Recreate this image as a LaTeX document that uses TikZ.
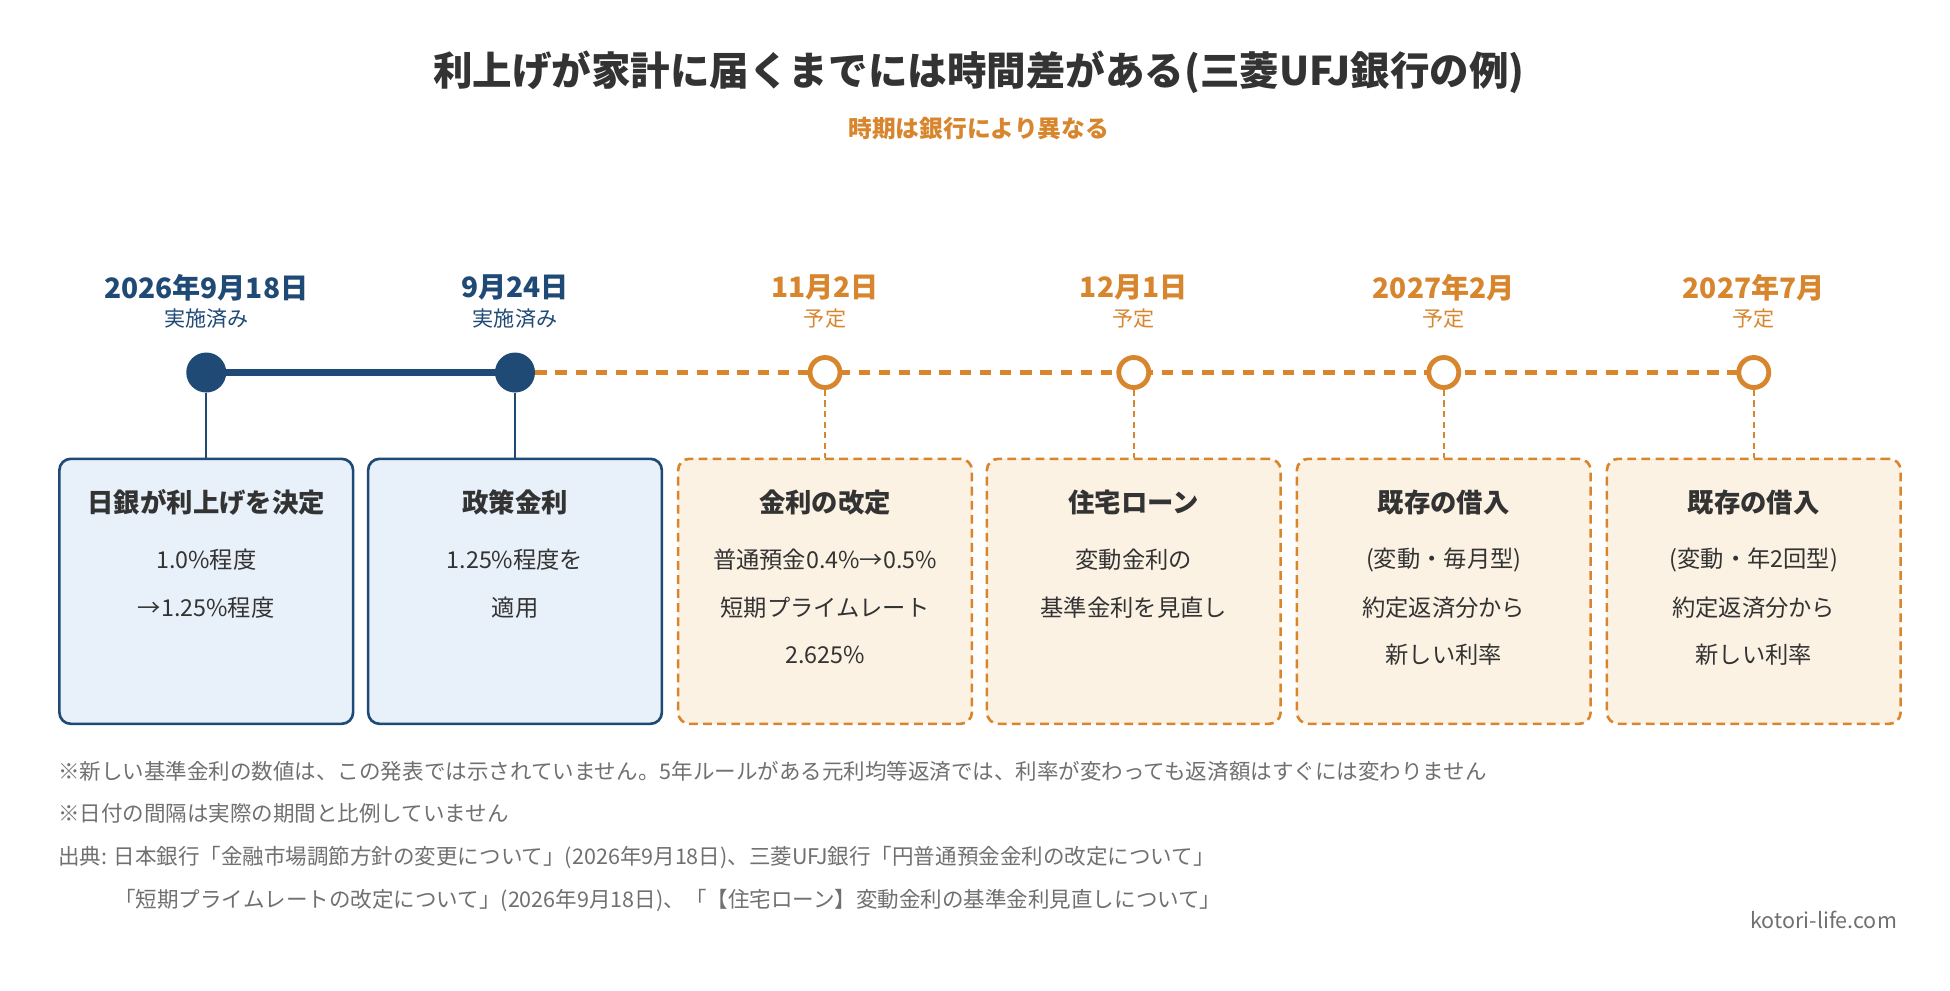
\documentclass[tikz,border=0pt]{standalone}
\usepackage{fontspec}
\setmainfont{Noto Sans CJK JP}
\begin{document}
\definecolor{navy}{HTML}{1F4A75}
\definecolor{org}{HTML}{D8862E}
\definecolor{bfill}{HTML}{E8F0F9}
\definecolor{ofill}{HTML}{FCF2E4}
\definecolor{txt}{HTML}{333333}
\definecolor{gry}{HTML}{707070}
\begin{tikzpicture}[x=0.05cm,y=-0.05cm,
  done/.style={draw=navy,line width=3pt,fill=bfill,rounded corners=13pt,minimum width=235*0.05cm,minimum height=212*0.05cm,anchor=north},
  plan/.style={draw=org,line width=3pt,dash pattern=on 10pt off 6pt,fill=ofill,rounded corners=13pt,minimum width=235*0.05cm,minimum height=212*0.05cm,anchor=north},
  dt/.style={font=\fontsize{32}{34}\selectfont\bfseries},
  sub/.style={font=\fontsize{24}{26}\selectfont},
  bt/.style={font=\fontsize{30}{32}\selectfont\bfseries,text=txt},
  bl/.style={font=\fontsize{26.5}{28}\selectfont,text=txt},
  note/.style={font=\fontsize{24.5}{26}\selectfont,text=gry,anchor=west}]
\useasboundingbox (0,0) rectangle (1560,792);
\fill[white] (0,0) rectangle (1560,792);
\node[font=\fontsize{45}{48}\selectfont\bfseries,text=txt] (title) at (783,58) {利上げが家計に届くまでには時間差がある(三菱UFJ銀行の例)};
\node[font=\fontsize{27}{30}\selectfont\bfseries,text=org] (subt) at (783,103) {時期は銀行により異なる};
% timeline
\foreach \i/\x in {1/165,2/412,3/660,4/907,5/1155,6/1403}{\coordinate (p\i) at (\x,298);}
\draw[navy,line width=8pt] (p1) -- (p2);
\draw[org,line width=5.5pt,dash pattern=on 13pt off 10pt] (p2) -- (p6);
\foreach \i in {1,2}{\node[circle,fill=navy,minimum size=32*0.05cm,inner sep=0] (c\i) at (p\i) {};}
\foreach \i in {3,...,6}{\node[circle,draw=org,line width=5.5pt,fill=white,minimum size=24*0.05cm,inner sep=0] (c\i) at (p\i) {};}
% dates
\node[dt,text=navy] (d1) at (165,230) {2026年9月18日};
\node[sub,text=navy] (s1) at (165,255) {実施済み};
\node[dt,text=navy] (d2) at (412,230) {9月24日};
\node[sub,text=navy] (s2) at (412,255) {実施済み};
\node[dt,text=org] (d3) at (660,230) {11月2日};
\node[sub,text=org] (s3) at (660,255) {予定};
\node[dt,text=org] (d4) at (907,230) {12月1日};
\node[sub,text=org] (s4) at (907,255) {予定};
\node[dt,text=org] (d5) at (1155,230) {2027年2月};
\node[sub,text=org] (s5) at (1155,255) {予定};
\node[dt,text=org] (d6) at (1403,230) {2027年7月};
\node[sub,text=org] (s6) at (1403,255) {予定};
% boxes
\node[done] (b1) at (165,366) {};
\node[done] (b2) at (412,366) {};
\node[plan] (b3) at (660,366) {};
\node[plan] (b4) at (907,366) {};
\node[plan] (b5) at (1155,366) {};
\node[plan] (b6) at (1403,366) {};
\draw[navy,line width=2.8pt] (c1) -- (b1.north);
\draw[navy,line width=2.8pt] (c2) -- (b2.north);
\foreach \i in {3,...,6}{\draw[org,line width=2.8pt,dash pattern=on 7pt off 5pt] (c\i) -- (b\i.north);}
% box texts
\node[bt] (t1) at (165,402) {日銀が利上げを決定};
\node[bl] (l11) at (165,448) {1.0\%程度};
\node[bl] (l12) at (165,486) {→1.25\%程度};
\node[bt] (t2) at (412,402) {政策金利};
\node[bl] (l21) at (412,448) {1.25\%程度を};
\node[bl] (l22) at (412,486) {適用};
\node[bt] (t3) at (660,402) {金利の改定};
\node[bl] (l31) at (660,448) {普通預金0.4\%→0.5\%};
\node[bl] (l32) at (660,486) {短期プライムレート};
\node[bl] (l33) at (660,524) {2.625\%};
\node[bt] (t4) at (907,402) {住宅ローン};
\node[bl] (l41) at (907,448) {変動金利の};
\node[bl] (l42) at (907,486) {基準金利を見直し};
\node[bt] (t5) at (1155,402) {既存の借入};
\node[bl] (l51) at (1155,448) {(変動・毎月型)};
\node[bl] (l52) at (1155,486) {約定返済分から};
\node[bl] (l53) at (1155,524) {新しい利率};
\node[bt] (t6) at (1403,402) {既存の借入};
\node[bl] (l61) at (1403,448) {(変動・年2回型)};
\node[bl] (l62) at (1403,486) {約定返済分から};
\node[bl] (l63) at (1403,524) {新しい利率};
% notes
\node[note] (n1) at (44,617) {※新しい基準金利の数値は、この発表では示されていません。5年ルールがある元利均等返済では、利率が変わっても返済額はすぐには変わりません};
\node[note] (n2) at (44,651) {※日付の間隔は実際の期間と比例していません};
\node[note] (n3) at (44,686) {出典: 日本銀行「金融市場調節方針の変更について」(2026年9月18日)、三菱UFJ銀行「円普通預金金利の改定について」};
\node[note] (n4) at (89,720) {「短期プライムレートの改定について」(2026年9月18日)、「【住宅ローン】変動金利の基準金利見直しについて」};
\node[note,anchor=east] (web) at (1520,736) {kotori-life.com};
\end{tikzpicture}
\end{document}
